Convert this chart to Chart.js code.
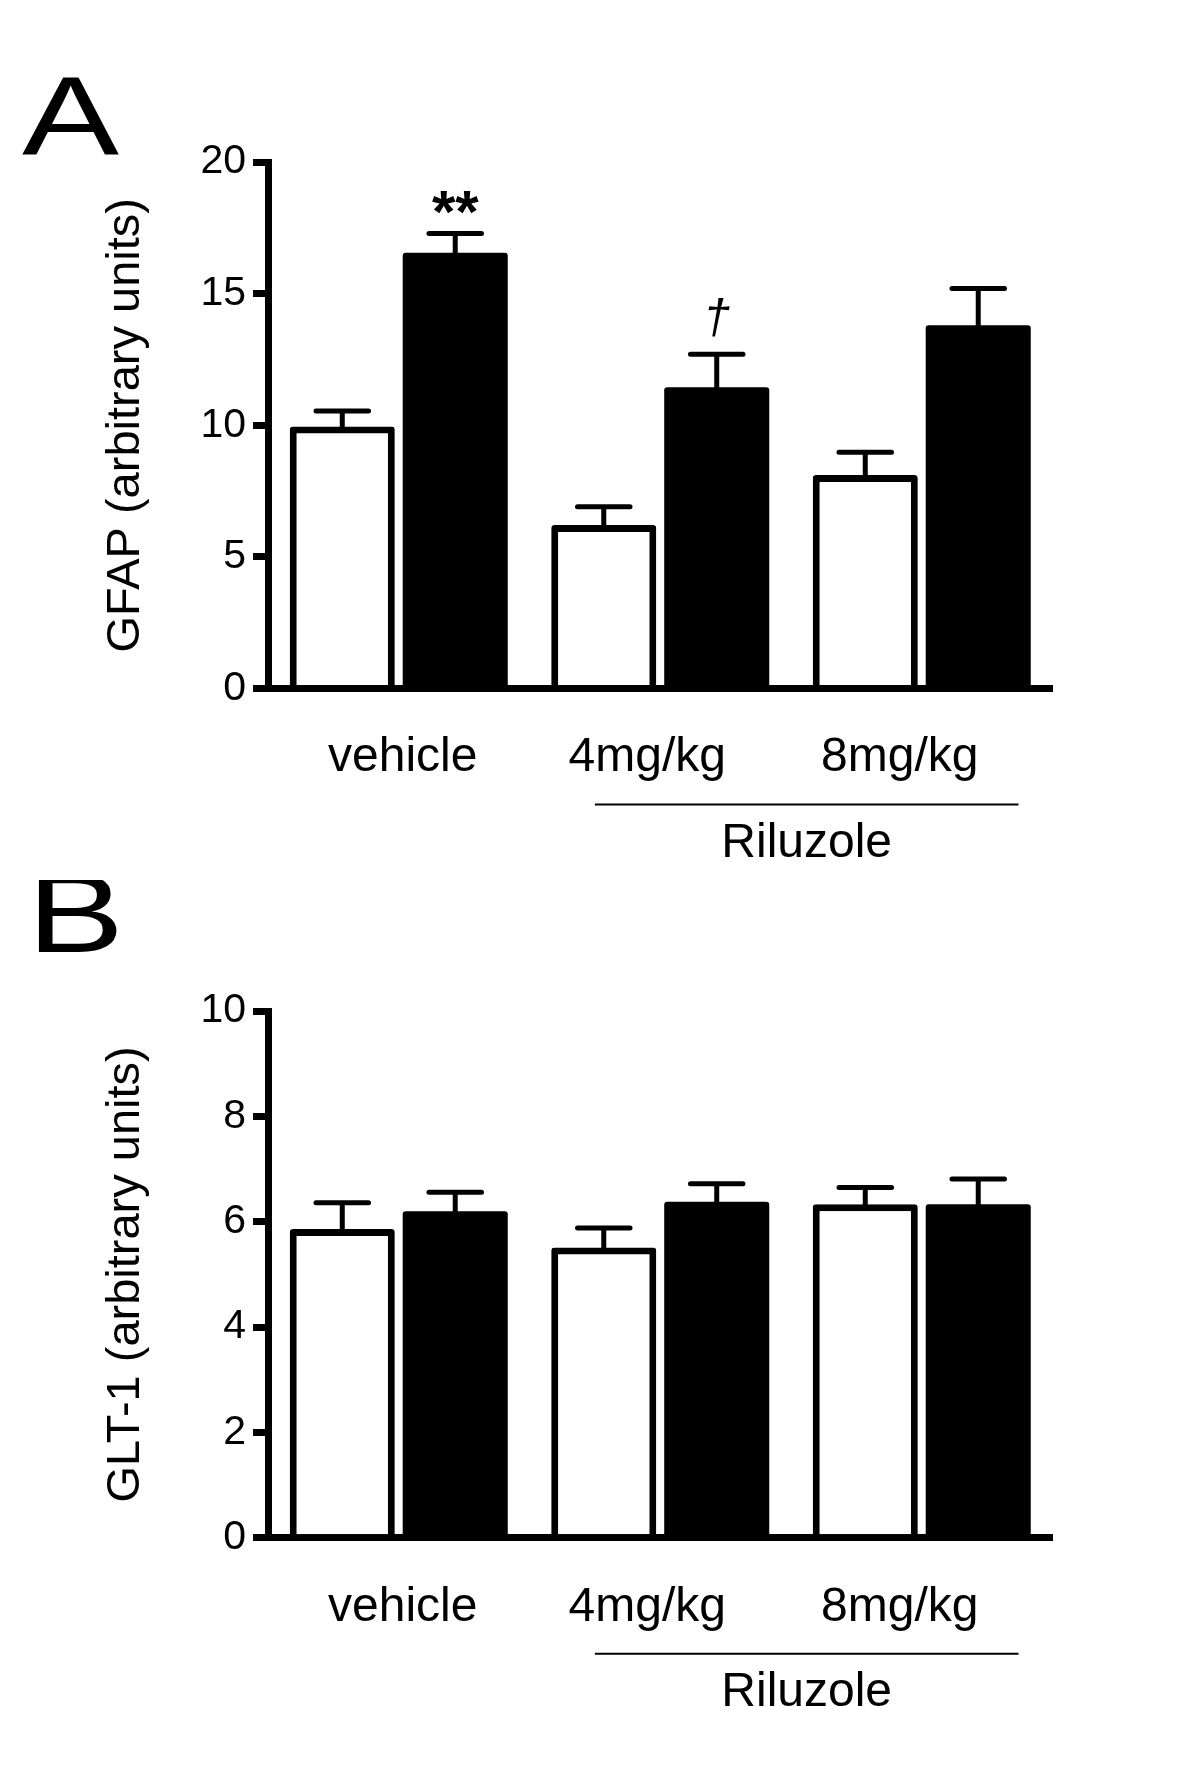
<!DOCTYPE html>
<html>
<head>
<meta charset="utf-8">
<script src="https://cdn.jsdelivr.net/npm/chart.js@4/dist/chart.umd.min.js"></script>
<style>
  body { margin: 0; background: #fff; }
  canvas { position: absolute; left: 0; }
</style>
</head>
<body>
<canvas id="gfap" width="1200" height="880" style="top:0"></canvas>
<canvas id="glt1" width="1200" height="897" style="top:880px"></canvas>
<script>
// groups on the x axis
var groups = ["vehicle", "4mg/kg", "8mg/kg"];

// panel A - GFAP
var gfapTicks = [0, 5, 10, 15, 20];
var gfapWhite = [9.95, 6.21, 8.11];
var gfapWhiteSem = [0.59, 0.69, 0.86];
var gfapBlack = [16.55, 11.44, 13.80];
var gfapBlackSem = [0.73, 1.26, 1.39];
var gfapMarks = ["**", "\u2020", ""];

// panel B - GLT-1
var gltTicks = [0, 2, 4, 6, 8, 10];
var gltWhite = [5.86, 5.51, 6.33];
var gltWhiteSem = [0.50, 0.37, 0.32];
var gltBlack = [6.20, 6.38, 6.33];
var gltBlackSem = [0.36, 0.34, 0.48];
var gltMarks = ["", "", ""];

var treatment = "Riluzole";

Chart.defaults.font.family = "'Liberation Sans', Arial, sans-serif";
Chart.defaults.color = "#000";

var labelShift = [4, -13, -22];
var markStyle = {
    "**": { font: "bold 60px 'Liberation Sans', Arial, sans-serif", dy: -2 },
    "\u2020": { font: "italic 48px 'Liberation Sans', Arial, sans-serif", dy: -21 }
};

var annotate = {
    id: 'annotate',
    afterDatasetsDraw: function(chart) {
        var ctx = chart.ctx, xs = chart.scales.x, ys = chart.scales.y;
        var o = chart.options.plugins.annotate;
        ctx.save();
        ctx.strokeStyle = "#000";
        ctx.fillStyle = "#000";
        // error bars (upper only)
        chart.data.datasets.forEach(function(ds, d) {
            chart.getDatasetMeta(d).data.forEach(function(bar, i) {
                var cap = ys.getPixelForValue(ds.data[i] + ds.sem[i]);
                ctx.lineWidth = 5;
                ctx.lineCap = "butt";
                ctx.beginPath();
                ctx.moveTo(bar.x, bar.y + 2);
                ctx.lineTo(bar.x, cap);
                ctx.stroke();
                ctx.lineCap = "round";
                ctx.beginPath();
                ctx.moveTo(bar.x - bar.width / 4, cap);
                ctx.lineTo(bar.x + bar.width / 4, cap);
                ctx.stroke();
                var m = ds.marks ? ds.marks[i] : "";
                if (m) {
                    ctx.font = markStyle[m].font;
                    ctx.textAlign = "center";
                    ctx.textBaseline = "alphabetic";
                    ctx.fillText(m, bar.x, cap + markStyle[m].dy);
                }
            });
        });
        // group labels
        var base = ys.getPixelForValue(0);
        ctx.font = "48px 'Liberation Sans', Arial, sans-serif";
        ctx.textAlign = "center";
        ctx.textBaseline = "alphabetic";
        groups.forEach(function(g, i) {
            ctx.fillText(g, xs.getPixelForValue(i) + labelShift[i], base + o.labelY);
        });
        // treatment bracket
        var cw = (xs.right - xs.left) / groups.length;
        var x1 = xs.getPixelForValue(1) - 0.25 * cw;
        var x2 = xs.getPixelForValue(2) + 0.37 * cw;
        ctx.lineWidth = 2;
        ctx.lineCap = "butt";
        ctx.beginPath();
        ctx.moveTo(x1, base + 116);
        ctx.lineTo(x2, base + 116);
        ctx.stroke();
        ctx.fillText(treatment, (x1 + x2) / 2, base + 168);
        // panel letter
        ctx.translate(o.letterX, o.letterY);
        ctx.scale(1.3, 1);
        ctx.font = "112px 'Liberation Sans', Arial, sans-serif";
        ctx.textAlign = "left";
        ctx.fillText(o.letter, 0, 0);
        ctx.restore();
    }
};

function makeChart(id, p) {
    var ctx = document.getElementById(id);
    return new Chart(ctx, {
        type: 'bar',
        data: {
            labels: groups,
            datasets: [{
                data: p.white,
                sem: p.whiteSem,
                backgroundColor: "#fff",
                borderColor: "#000",
                borderWidth: 7,
                borderRadius: 3
            }, {
                data: p.black,
                sem: p.blackSem,
                marks: p.marks,
                backgroundColor: "#000",
                borderColor: "#000",
                borderWidth: 0,
                borderRadius: 3
            }]
        },
        options: {
            responsive: false,
            animation: false,
            layout: { padding: { top: p.top, right: 147.5, left: 0, bottom: 0 } },
            datasets: { bar: { categoryPercentage: 0.864, barPercentage: 0.93 } },
            plugins: {
                legend: { display: false },
                tooltip: { enabled: false },
                annotate: { letter: p.letter, letterX: p.letterX, letterY: p.letterY, labelY: p.labelY }
            },
            scales: {
                x: {
                    z: 1,
                    grid: { display: true, drawOnChartArea: false, drawTicks: false },
                    border: { display: true, width: 7, color: "#000" },
                    ticks: { display: false },
                    afterFit: function(s) { s.height = p.xHeight; }
                },
                y: {
                    min: 0,
                    max: p.ticks[p.ticks.length - 1],
                    afterBuildTicks: function(s) {
                        s.ticks = p.ticks.map(function(v) { return { value: v }; });
                    },
                    grid: { drawOnChartArea: false, drawTicks: true, tickLength: 15, lineWidth: 7, tickColor: "#000" },
                    border: { display: true, width: 7, color: "#000" },
                    ticks: { color: "#000", font: { size: 41 }, padding: 7 },
                    title: {
                        display: true,
                        text: p.title,
                        color: "#000",
                        font: { size: 47 },
                        padding: { top: 98, bottom: 0 }
                    },
                    afterFit: function(s) { s.width = 268; }
                }
            }
        },
        plugins: [annotate]
    });
}

makeChart('gfap', {
    title: "GFAP (arbitrary units)", ticks: gfapTicks,
    white: gfapWhite, whiteSem: gfapWhiteSem,
    black: gfapBlack, blackSem: gfapBlackSem, marks: gfapMarks,
    top: 162, xHeight: 191.5, labelY: 82,
    letter: "A", letterX: 22, letterY: 154
});

makeChart('glt1', {
    title: "GLT-1 (arbitrary units)", ticks: gltTicks,
    white: gltWhite, whiteSem: gltWhiteSem,
    black: gltBlack, blackSem: gltBlackSem, marks: gltMarks,
    top: 131, xHeight: 239.3, labelY: 83,
    letter: "B", letterX: 27, letterY: 72
});
</script>
</body>
</html>
